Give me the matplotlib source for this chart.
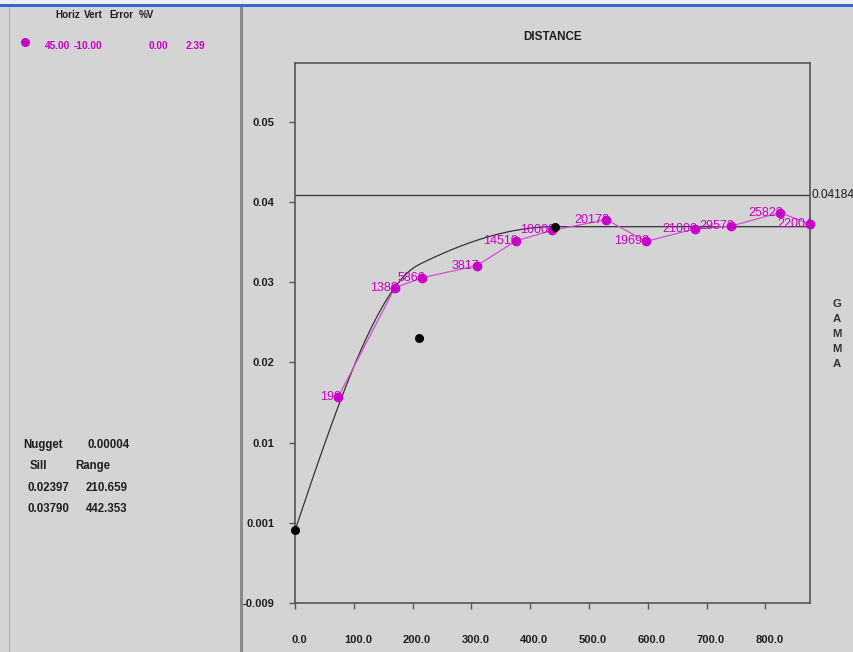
import numpy as np
import matplotlib
matplotlib.use("Agg")
import matplotlib.pyplot as plt
from matplotlib.patches import Rectangle
from matplotlib.lines import Line2D
from matplotlib.transforms import ScaledTranslation

plt.rcParams['font.family'] = ['Liberation Sans', 'DejaVu Sans']

# Experimental variogram: lag distance, semivariance, pair counts
lag_distance = [73.6, 170.0, 216.5, 309.0, 375.3, 436.6, 529.8, 597.1, 680.4, 742.0, 824.7, 876.0]
gamma_values = [0.01671, 0.03029, 0.03154, 0.03303, 0.03611, 0.03744, 0.03878,
                0.03606, 0.03764, 0.03798, 0.03965, 0.03823]
pair_counts = ["198", "1382", "5866", "3817", "14510", "10008", "20172",
               "19693", "21000", "29573", "25823", "22004"]

# Fitted nested spherical model
nugget = 0.00004
sills = [0.02397, 0.03790]
ranges = [210.659, 442.353]
variance_line = 0.04184

# Direction summary
direction_header = ["Horiz", "Vert", "Error", "%V"]
direction_values = ["45.00", "-10.00", "0.00", "2.39"]

# Axis ticks
x_ticks = [0, 100, 200, 300, 400, 500, 600, 700, 800]
x_tick_labels = ["0.0", "100.0", "200.0", "300.0", "400.0", "500.0", "600.0", "700.0", "800.0"]
y_ticks = [0.051, 0.041, 0.031, 0.021, 0.011, 0.001, -0.009]
y_tick_labels = ["0.05", "0.04", "0.03", "0.02", "0.01", "0.001", "-0.009"]

W, H = 854, 652
BG = '#d4d4d4'
MAG = '#c800c8'
TXT = '#1e1e1e'


def fx(px):
    return px / W


def fy(py):
    return 1 - py / H


def spherical(h, a):
    r = np.clip(h / a, 0, 1)
    return 1.5 * r - 0.5 * r ** 3


fig = plt.figure(figsize=(W / 100, H / 100), dpi=100, facecolor=BG)

# window chrome: title strip, panel divider, left frame line
fig.patches.append(Rectangle((0, fy(4)), 1, 4 / H, transform=fig.transFigure,
                             facecolor='#eeeeee', edgecolor='none', zorder=0))
fig.patches.append(Rectangle((0, fy(7)), 1, 3 / H, transform=fig.transFigure,
                             facecolor='#3566d6', edgecolor='none', zorder=0))
fig.patches.append(Rectangle((fx(240), 0), 3 / W, fy(7), transform=fig.transFigure,
                             facecolor='#8a8a8a', edgecolor='none', zorder=0))
fig.patches.append(Rectangle((fx(9), 0), 1.5 / W, fy(7), transform=fig.transFigure,
                             facecolor='#a9a9a9', edgecolor='none', zorder=0))

# plot area
ax = fig.add_axes([fx(295), fy(603), (810 - 295) / W, (603 - 63) / H])
ax.set_facecolor(BG)
ax.set_xlim(0, 876)
ax.set_ylim(-0.009, 0.0583)

# model curve
h = np.linspace(0, 876, 600)
contrib = [sills[0] - nugget, sills[1] - sills[0]]
model = nugget + contrib[0] * spherical(h, ranges[0]) + contrib[1] * spherical(h, ranges[1])
ax.plot(h, model, color='#333333', lw=0.9, zorder=2)

# variance reference line
ax.axhline(variance_line, color='#3c3c3c', lw=1.0, zorder=2)
ax.text(1.003, variance_line, f"{variance_line:.5f}", transform=ax.get_yaxis_transform(),
        ha='left', va='center', fontsize=8.6, color=TXT, clip_on=False)

# experimental points
ax.plot(lag_distance, gamma_values, color='#d24ed2', lw=0.9, zorder=3, clip_on=False)
ax.plot(lag_distance, gamma_values, 'o', color=MAG, ms=6, mec=MAG, zorder=4, clip_on=False)
for x, y, n in zip(lag_distance, gamma_values, pair_counts):
    ax.annotate(n, (x, y), xytext=(2, 0), textcoords='offset points', ha='right',
                va='center', fontsize=9, color=MAG, zorder=5)

# model parameter markers
ax.plot([0] + ranges, [nugget] + sills, 'o', color='black', ms=5.5, zorder=6, clip_on=False)

for s in ax.spines.values():
    s.set_color('#555555')
    s.set_linewidth(1.2)

ax.set_xticks(x_ticks)
ax.set_xticklabels(x_tick_labels)
ax.set_yticks(y_ticks)
ax.set_yticklabels(y_tick_labels)
ax.tick_params(axis='x', direction='out', length=4, width=1, color='#555555',
               pad=19, labelsize=8, labelcolor=TXT)
ax.tick_params(axis='y', direction='out', length=4, width=1, color='#555555',
               pad=11, labelsize=8, labelcolor=TXT)
shift = ScaledTranslation(4 / 100, 0, fig.dpi_scale_trans)
for lbl in ax.get_xticklabels():
    lbl.set_fontweight('bold')
    lbl.set_transform(lbl.get_transform() + shift)
for lbl in ax.get_yticklabels():
    lbl.set_fontweight('bold')

# axis titles
fig.text(fx(553), fy(37), "DISTANCE", ha='center', va='center', fontsize=8.4,
         fontweight='bold', color=TXT)
for i, ch in enumerate("GAMMA"):
    fig.text(fx(837), fy(304 + i * 15), ch, ha='center', va='center', fontsize=8.2,
             fontweight='bold', color='#333333')

# direction summary
for label, px in zip(direction_header, [55, 84, 109, 139]):
    fig.text(fx(px), fy(15), label, ha='left', va='center', fontsize=7.1,
             fontweight='bold', color=TXT)
fig.add_artist(Line2D([fx(25)], [fy(42)], transform=fig.transFigure, marker='o',
                      ms=5.5, color=MAG, mec=MAG, linestyle='none'))
for val, px in zip(direction_values, [45, 74, 149, 186]):
    fig.text(fx(px), fy(46), val, ha='left', va='center', fontsize=7.3,
             fontweight='bold', color=MAG)

# model summary
FS = 8.3
fig.text(fx(23), fy(445), "Nugget", ha='left', va='center', fontsize=FS,
         fontweight='bold', color=TXT)
fig.text(fx(88), fy(445), f"{nugget:.5f}", ha='left', va='center', fontsize=FS,
         fontweight='bold', color=TXT)
fig.text(fx(30), fy(466), "Sill", ha='left', va='center', fontsize=FS,
         fontweight='bold', color=TXT)
fig.text(fx(75), fy(466), "Range", ha='left', va='center', fontsize=FS,
         fontweight='bold', color=TXT)
for i, (s, r) in enumerate(zip(sills, ranges)):
    yy = 488 + i * 21
    fig.text(fx(28), fy(yy), f"{s:.5f}", ha='left', va='center', fontsize=FS,
             fontweight='bold', color=TXT)
    fig.text(fx(86), fy(yy), f"{r:.3f}", ha='left', va='center', fontsize=FS,
             fontweight='bold', color=TXT)

fig.savefig("out.png", dpi=100, facecolor=BG)
